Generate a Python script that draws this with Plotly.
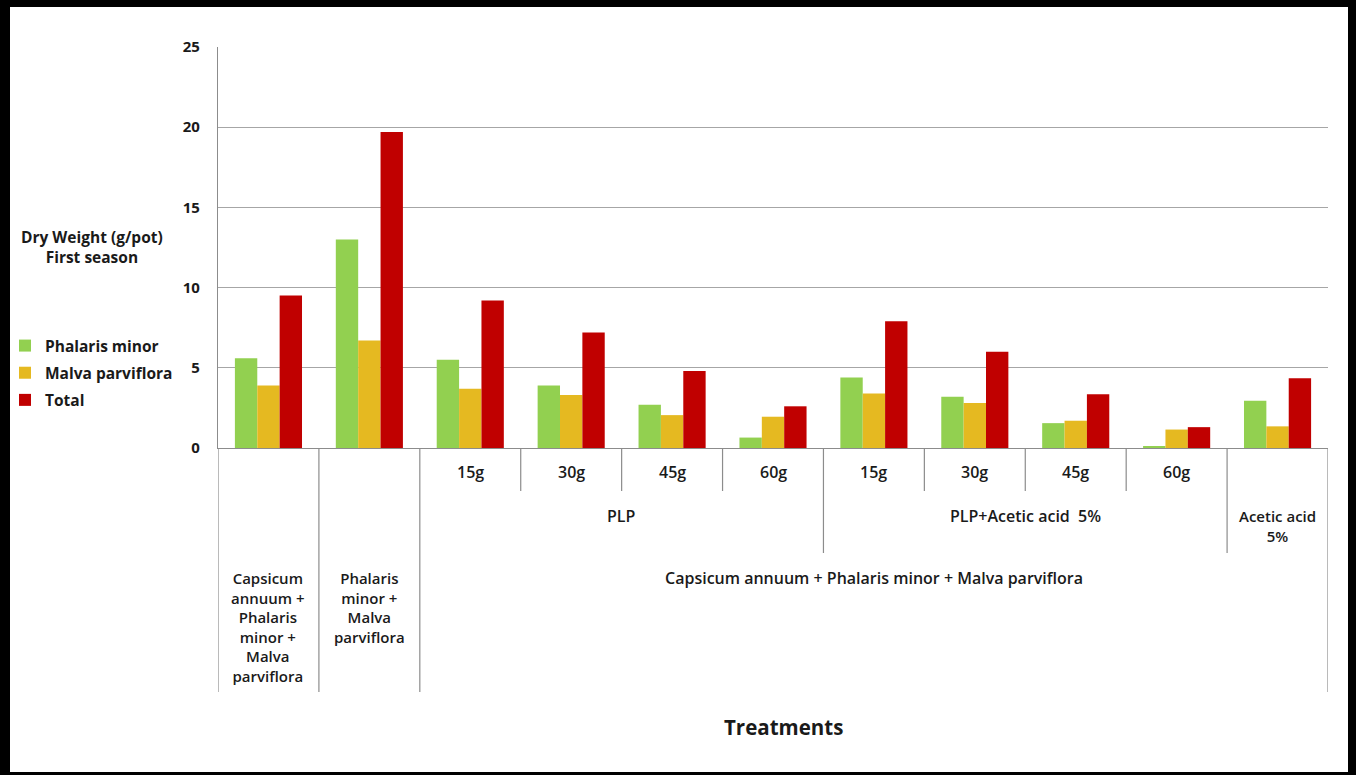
import plotly.graph_objects as go

# Treatment groups (one bar cluster per entry)
groups = [
    "Capsicum annuum + Phalaris minor + Malva parviflora",
    "Phalaris minor + Malva parviflora",
    "PLP 15g", "PLP 30g", "PLP 45g", "PLP 60g",
    "PLP+AA 15g", "PLP+AA 30g", "PLP+AA 45g", "PLP+AA 60g",
    "Acetic acid 5%",
]
dose_labels = ["", "", "15g", "30g", "45g", "60g", "15g", "30g", "45g", "60g", ""]

# Dry weight (g/pot), first season
phalaris = [5.6, 13.0, 5.5, 3.9, 2.7, 0.65, 4.4, 3.2, 1.55, 0.1, 2.95]
malva = [3.9, 6.7, 3.7, 3.3, 2.05, 1.95, 3.4, 2.8, 1.7, 1.15, 1.35]
total = [9.5, 19.7, 9.2, 7.2, 4.8, 2.6, 7.9, 6.0, 3.35, 1.3, 4.35]

series_names = ["Phalaris minor", "Malva parviflora", "Total"]
series_colors = ["#92D050", "#E5B921", "#C00000"]

W, H = 1356, 775
ML, MR, MT, MB = 218, 28, 47, 327
PW, PH = W - ML - MR, H - MT - MB


def px_x(x):
    return (x - ML) / PW


def px_y(y):
    return (H - MB - y) / PH


FONT = "Open Sans"
TXT = "#1a1a1a"

fig = go.Figure()
for i, (name, vals, col) in enumerate(zip(series_names, [phalaris, malva, total], series_colors)):
    fig.add_trace(go.Bar(
        x=groups, y=vals, name=name, marker_color=col,
        marker_line_width=0, legendgroup=f"g{i}",
    ))

shapes = []
# separators below the category axis: (boundary index, bottom pixel)
seps = [(-0.5, 692), (0.5, 692), (1.5, 692), (2.5, 491), (3.5, 491), (4.5, 491),
        (5.5, 553), (6.5, 491), (7.5, 491), (8.5, 491), (9.5, 553), (10.5, 692)]
for xb, yb in seps:
    shapes.append(dict(type="line", xref="x", yref="paper", x0=xb, x1=xb,
                       y0=0, y1=px_y(yb), line=dict(color="#8c8c8c", width=1.2)))

# black picture frame
frame = [(0, 0, W, 7), (0, 0, 10, H), (1348, 0, W, H), (0, 772, W, H)]
for x0, y0, x1, y1 in frame:
    shapes.append(dict(type="rect", xref="paper", yref="paper",
                       x0=px_x(x0), x1=px_x(x1), y0=px_y(y0), y1=px_y(y1),
                       fillcolor="black", line_width=0, layer="above"))

annotations = []
lab_font = dict(family=FONT, size=16, color=TXT, weight=600)
stack_font = dict(family=FONT, size=15, color=TXT, weight=600)


def add_label(x, y_mid, text, xref="x", font=lab_font):
    annotations.append(dict(x=x, y=px_y(y_mid), xref=xref, yref="paper",
                            text=text, showarrow=False, font=font,
                            xanchor="center", yanchor="middle"))


for i, d in enumerate(dose_labels):
    if d:
        add_label(i, 472, d)
add_label(3.5, 516, "PLP")
add_label(7.5, 516, "PLP+Acetic acid&nbsp;&nbsp;5%")
add_label(10, 526, "Acetic acid<br>5%", font=stack_font)
add_label(6, 578, "Capsicum annuum + Phalaris minor + Malva parviflora")
add_label(0, 627, "Capsicum<br>annuum +<br>Phalaris<br>minor +<br>Malva<br>parviflora",
          font=stack_font)
add_label(1, 607.5, "Phalaris<br>minor +<br>Malva<br>parviflora", font=stack_font)
add_label(px_x(92), 247, "Dry Weight (g/pot)<br>First season", xref="paper",
          font=dict(family=FONT, size=15.5, color=TXT, weight="bold"))
add_label(px_x(783), 727, "Treatments", xref="paper",
          font=dict(family=FONT, size=20.5, color=TXT, weight="bold"))

fig.update_layout(
    width=W, height=H,
    margin=dict(l=ML, r=MR, t=MT, b=MB, autoexpand=False),
    paper_bgcolor="white", plot_bgcolor="white",
    barmode="group", bargap=0.335, bargroupgap=0,
    font=dict(family=FONT, color=TXT),
    shapes=shapes, annotations=annotations,
    legend=dict(x=px_x(5), y=px_y(329), xanchor="left", yanchor="top",
                font=dict(family=FONT, size=15.5, color=TXT, weight="bold"),
                tracegroupgap=4, itemwidth=30, bgcolor="rgba(0,0,0,0)"),
    showlegend=True,
)
fig.update_xaxes(type="category", range=[-0.5, 10.5], showticklabels=False,
                 showline=True, linecolor="#8c8c8c", linewidth=1.2, showgrid=False, ticks="")
fig.update_yaxes(range=[0, 25], dtick=5, showgrid=True, gridcolor="#a6a6a6", gridwidth=1.3,
                 showline=True, linecolor="#8c8c8c", linewidth=1.2, zeroline=False,
                 ticks="", ticklabelstandoff=14,
                 tickfont=dict(family=FONT, size=15, color=TXT, weight="bold"))

fig.write_html("out.html")
